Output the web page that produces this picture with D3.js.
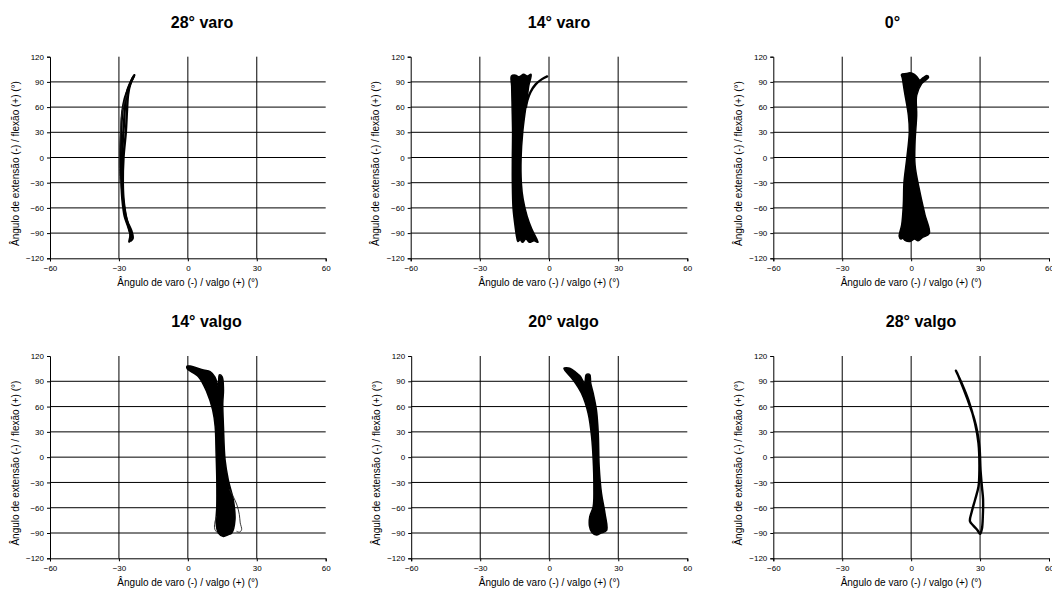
<!DOCTYPE html>
<html><head><meta charset="utf-8">
<script src="https://cdn.jsdelivr.net/npm/d3@7"></script>
<style>
html,body{margin:0;padding:0;background:#fff;}
svg{display:block;font-family:"Liberation Sans",Arial,sans-serif;}
</style></head>
<body>
<svg id="chart" width="1052" height="590"></svg>
<script>
// ---------- data ----------
const titles = ["28° varo", "14° varo", "0°", "14° valgo", "20° valgo", "28° valgo"];
const xTicks = [-60, -30, 0, 30, 60];
const yTicks = [-120, -90, -60, -30, 0, 30, 60, 90, 120];
const xLabel = "Ângulo de varo (-) / valgo (+) (°)";
const yLabel = "Ângulo de extensão (-) / flexão (+) (°)";

// 28° varo : individual cycles [varo/valgo, flexion]
const varo28Traces = [
  [[-23.3,98],[-25.5,85],[-27.5,70],[-28.5,55],[-29,30],[-29.3,0],[-29,-25],[-28.5,-50],[-27.5,-70],[-26,-82],[-25,-92],[-25.5,-100]],
  [[-23.5,97],[-25,88],[-26,75],[-26.5,55],[-27,30],[-28,0],[-28.3,-30],[-27.8,-55],[-26.5,-75],[-24.5,-88],[-24,-96],[-24.8,-99]],
  [[-24,95],[-26.3,80],[-27.3,62],[-27.8,40],[-28.5,10],[-28.8,-20],[-28.4,-45],[-27.2,-68],[-25.6,-84],[-24.6,-95]]
];
const varo28Faint = [[-26.5,75],[-28.6,55],[-29.5,20],[-29.8,-10],[-29.5,-30]];

// 14° varo : envelope of the cycle bundle + separate cycle
const varo14Band = [[-16.3,97],[-16.2,85],[-16,60],[-15.8,30],[-15.9,0],[-15.9,-30],[-15.6,-60],[-14.8,-80],[-14,-95],[-13.5,-100],[-12.5,-98],[-11.5,-101],[-10,-97],[-8.5,-101],[-6.5,-99],[-4.8,-101],[-5.5,-96],[-7.5,-85],[-9.5,-70],[-11.2,-50],[-12,-30],[-12.1,0],[-11.4,30],[-10.3,55],[-9.5,70],[-8.8,85],[-7.8,99],[-9.5,97],[-11,99],[-13,96],[-14.5,98]];
const varo14Traces = [
  [[-10,60],[-9.4,68],[-8,78],[-5.8,87],[-3.2,93],[-0.8,96.5]]
];

// 0°
const neutralBand = [[-4.2,99],[-3.8,94],[-2.9,78],[-1.2,50],[-0.8,31],[-1.9,-1],[-3.1,-29],[-3.4,-56],[-4.1,-80],[-5.2,-94],[-4.5,-97],[-3.7,-96],[-2.5,-99],[-0.5,-100],[1.5,-97],[3,-99],[5,-95],[7.9,-90.5],[6,-68],[3.8,-41],[1.7,-9],[1.7,19],[2.4,50],[2.4,74],[4.6,88],[7.6,95.5],[6.8,97.5],[5.2,95],[3.8,92],[2.5,96],[1.4,99],[-0.5,101],[-2,100]];
const neutralTraces = [];

// 14° valgo
const valgo14Band = [[-0.3,108],[-0.3,105],[4.6,95.5],[8.2,77.7],[10.8,56],[11.9,36],[12.3,4.6],[12.6,-27],[12.6,-58.7],[12.3,-78],[13.3,-90],[15.5,-94],[17.5,-92],[19.1,-90],[20.5,-74.5],[19.8,-50.8],[17.6,-27],[16.2,-3.3],[15.5,36],[15.2,64],[15.5,80],[14.9,95.5],[13.7,97.5],[13.3,84],[11.8,95],[9.7,101.4],[6.8,103.4],[1,108]];
const valgo14Thin = [
  [[18,-38],[19.8,-47],[21.4,-57],[22.4,-68],[22.8,-78],[23.4,-86],[22.5,-89],[21.2,-88]],
  [[12.5,-70],[11.6,-80],[11.8,-86],[13,-90]]
];

// 20° valgo
const valgo20Band = [[6.4,105.5],[6.8,103],[10.4,91.6],[14,75.8],[16.9,52],[18.4,24.3],[19.1,-3.3],[19.4,-35],[19.1,-58.7],[17.6,-70.6],[17.5,-82],[18.5,-89],[20.5,-92.3],[22.5,-90],[24.9,-87],[24.2,-66.4],[22.7,-43],[21.7,-11.3],[21.3,28.2],[20.5,56],[19.1,75.8],[18,88],[17.6,98],[16.1,98],[15.4,87.5],[13.5,96],[11.8,100],[8.9,105.5]];

// 28° valgo
const valgo28Traces = [
  [[19.5,102.6],[22,87.7],[24.9,67.9],[27.8,40.2],[29.3,16.5],[29.7,-15.2],[29.3,-35],[27.8,-50.8],[26.4,-64.6],[25.6,-76],[27,-81],[28.8,-86.4],[30,-91],[30.8,-85],[31.2,-70],[31.3,-50],[30.8,-35],[30.2,-15],[29.8,10],[28.8,30],[27.5,45],[25,65],[22.5,83],[20,100]]
];

const panelData = [
  {band: null, traces: varo28Traces, thin: [varo28Faint]},
  {band: varo14Band, traces: varo14Traces, thin: []},
  {band: neutralBand, traces: neutralTraces, thin: []},
  {band: valgo14Band, traces: [], thin: valgo14Thin},
  {band: valgo20Band, traces: [], thin: []},
  {band: null, traces: valgo28Traces, thin: []}
];

// ---------- layout ----------
const layout = [
  {x0:50,   x1:325.7, y0:56.7, y1:258.3, tx:202,   ty:27.5},
  {x0:410.7,x1:687.3, y0:56.7, y1:258.3, tx:559,   ty:27.5},
  {x0:773.3,x1:1049,  y0:56.7, y1:258.3, tx:892.5, ty:27.5},
  {x0:50,   x1:325.7, y0:356,  y1:558.3, tx:206.5, ty:327},
  {x0:411.2,x1:687.3, y0:356,  y1:558.3, tx:563.5, ty:327},
  {x0:773.3,x1:1049,  y0:356,  y1:558.3, tx:921,   ty:327}
];

const svg = d3.select("#chart");

layout.forEach((L, i) => {
  const d = panelData[i];
  const x = d3.scaleLinear().domain([-60, 60]).range([L.x0, L.x1]);
  const y = d3.scaleLinear().domain([-120, 120]).range([L.y1, L.y0]);
  const g = svg.append("g");

  // grid
  g.selectAll(".hg").data(yTicks.filter(t => t > -120 && t < 120)).join("line")
    .attr("x1", L.x0).attr("x2", L.x1).attr("y1", d => y(d)).attr("y2", d => y(d))
    .attr("stroke", "#000").attr("stroke-width", 1);
  g.selectAll(".vg").data(xTicks.filter(t => t > -60 && t < 60)).join("line")
    .attr("y1", L.y0).attr("y2", L.y1).attr("x1", d => x(d)).attr("x2", d => x(d))
    .attr("stroke", "#000").attr("stroke-width", 1);

  // axes
  const ax = g.append("g").attr("transform", `translate(0,${L.y1})`)
    .call(d3.axisBottom(x).tickValues(xTicks).tickSize(3).tickPadding(4).tickFormat(d3.format("d")));
  const ay = g.append("g").attr("transform", `translate(${L.x0},0)`)
    .call(d3.axisLeft(y).tickValues(yTicks).tickSize(3).tickPadding(3).tickFormat(d3.format("d")));
  [ax, ay].forEach(a => {
    a.select(".domain").attr("stroke", "#000");
    a.selectAll(".tick line").attr("stroke", "#000");
    a.selectAll("text").attr("font-size", 8).attr("fill", "#000")
      .attr("font-family", "'Liberation Sans', Arial, sans-serif");
  });
  ax.selectAll("text").text(d => d === 0 ? "0" : d3.format("d")(d));

  // data
  const line = d3.line().x(p => x(p[0])).y(p => y(p[1])).curve(d3.curveCatmullRom.alpha(0.5));
  if (d.band) {
    g.append("path").datum(d.band)
      .attr("d", d3.line().x(p => x(p[0])).y(p => y(p[1])).curve(d3.curveCatmullRomClosed.alpha(0.5)))
      .attr("fill", "#000").attr("stroke", "#000").attr("stroke-width", 1.5).attr("stroke-linejoin", "round");
  }
  d.traces.forEach(t => {
    g.append("path").datum(t).attr("d", line)
      .attr("fill", "none").attr("stroke", "#000").attr("stroke-width", 2.4)
      .attr("stroke-linejoin", "round").attr("stroke-linecap", "round");
  });
  d.thin.forEach(t => {
    g.append("path").datum(t).attr("d", line)
      .attr("fill", "none").attr("stroke", "#222").attr("stroke-width", 0.9);
  });

  // labels
  svg.append("text").attr("x", L.tx).attr("y", L.ty).attr("text-anchor", "middle")
    .attr("font-size", 16).attr("font-weight", "bold").text(titles[i]);
  svg.append("text").attr("x", (L.x0 + L.x1) / 2).attr("y", L.y1 + 28)
    .attr("text-anchor", "middle").attr("font-size", 10).text(xLabel);
  const cy = (L.y0 + L.y1) / 2 + 6, cx = L.x0 - 35;
  svg.append("text").attr("transform", `translate(${cx},${cy}) rotate(-90)`)
    .attr("text-anchor", "middle").attr("dominant-baseline", "central")
    .attr("font-size", 10).text(yLabel);
});
</script>
</body></html>
